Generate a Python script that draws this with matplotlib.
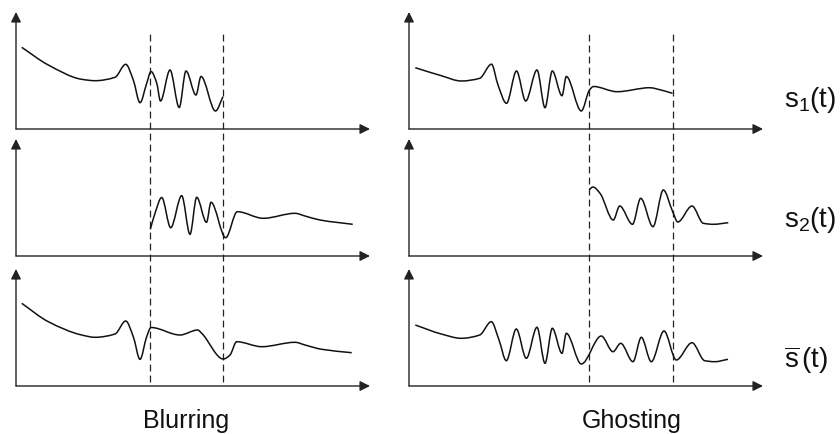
import numpy as np
import matplotlib
matplotlib.use("Agg")
import matplotlib.pyplot as plt
from matplotlib.path import Path
from matplotlib.patches import PathPatch
from matplotlib.transforms import blended_transform_factory

plt.rcParams['font.family'] = ['Liberation Sans', 'DejaVu Sans']
plt.rcParams['mathtext.fontset'] = 'custom'
plt.rcParams['mathtext.rm'] = 'Liberation Sans'
plt.rcParams['mathtext.it'] = 'Liberation Sans:italic'

# ---------------- data (t along the time axis, v above the baseline) ----------------
s1_blur_t = [5.7, 32.3, 65.7, 79, 99, 109.7, 117.3, 124, 130.7, 135, 140.7, 144.5, 154, 163.2,
             170, 180, 185, 199.5, 207]
s1_blur_v = [81.7, 64, 49.7, 48.3, 51.7, 64.7, 49, 26.3, 45.7, 57.5, 46, 28, 59, 21.5,
             58, 34, 52.5, 18, 32.3]

s2_blur_t = [134.3, 139, 145.7, 154.7, 165.7, 174, 180.7, 190.5, 195, 209.7, 221.3, 247.3,
             279, 289, 304, 336.7]
s2_blur_v = [26.7, 42.7, 58.5, 28.3, 60.3, 21.7, 58.7, 33.7, 53.7, 18.3, 44.3, 37.7,
             42.7, 40, 36, 31.7]

sum_blur_t = [5.7, 32.3, 65.7, 79, 99, 109.7, 117.3, 124, 130.7, 135, 164, 181.7, 185.7,
              207.3, 214, 220.7, 245.7, 279, 289, 305.7, 335.7]
sum_blur_v = [82.7, 64.3, 51, 48.7, 52, 65, 49.3, 26.7, 49.3, 58.5, 51, 56, 52.7,
              27, 31, 44.3, 39.3, 43.7, 41, 36.7, 33.3]

s1_ghost_t = [6.3, 32.3, 52.3, 70.7, 82.5, 89, 97.5, 107.5, 116.7, 128, 136, 143.3, 153,
              157.3, 172.3, 180.5, 184.5, 208, 241, 248, 263.5]
s1_ghost_v = [61.3, 53.3, 48, 50.7, 64.8, 44, 25.7, 58, 28, 59, 21.3, 58, 33.3,
              52.5, 18, 39, 42.5, 37.3, 41.3, 40, 35.7]

s2_ghost_t = [180.3, 184, 191, 204.3, 210.7, 223.5, 231.7, 244, 254.3, 263.7, 268.8, 283,
              294.3, 304.3, 319.3]
s2_ghost_v = [66.5, 69, 62.7, 36, 50, 31.7, 57.7, 29.3, 66, 44.3, 34, 50,
              32.7, 31.7, 33.3]

sum_ghost_t = [6.3, 32.3, 52.3, 70.7, 82.3, 90, 97.3, 107.3, 117.3, 128, 136, 143.3, 153,
               157.3, 172.3, 192.3, 204, 211.7, 224, 232.3, 242.3, 255, 267.3, 283, 295.7,
               305.7, 319]
sum_ghost_v = [61, 52, 47.7, 51, 64.3, 46, 25.3, 57, 27.7, 58.7, 22.7, 57.7, 32.7,
               52.7, 22, 50, 34.3, 42.7, 24.3, 48.7, 24.3, 55, 26, 43.3, 25.3,
               24.3, 26.7]

blur_marks = [134, 207]      # dashed time marks, Blurring column
ghost_marks = [180, 264]     # dashed time marks, Ghosting column

row_labels = [r'$\mathregular{s_1(t)}$', r'$\mathregular{s_2(t)}$', r'$\mathregular{\overline{s}\,(t)}$']
col_labels = ['Blurring', 'Ghosting']

# ---------------- helpers ----------------
def smooth_path(t, v):
    x = np.asarray(t, float)
    y = np.asarray(v, float)
    n = len(x)
    h = np.diff(x)
    d = np.diff(y) / h
    m = np.zeros(n)
    m[0], m[-1] = d[0], d[-1]
    for k in range(1, n - 1):
        if d[k - 1] * d[k] <= 0:
            m[k] = 0.0
        else:
            w1 = 2 * h[k] + h[k - 1]
            w2 = h[k] + 2 * h[k - 1]
            m[k] = (w1 + w2) / (w1 / d[k - 1] + w2 / d[k])
    verts = [(x[0], y[0])]
    codes = [Path.MOVETO]
    for k in range(n - 1):
        hk = h[k] / 3.0
        verts += [(x[k] + hk, y[k] + m[k] * hk),
                  (x[k + 1] - hk, y[k + 1] - m[k + 1] * hk),
                  (x[k + 1], y[k + 1])]
        codes += [Path.CURVE4] * 3
    return Path(verts, codes)

W, H = 840, 434
AW, AH = 354, 117
fig = plt.figure(figsize=(W / 100, H / 100), dpi=100)

def add_panel(x0, base, t, v):
    ax = fig.add_axes([x0 / W, (H - base) / H, AW / W, AH / H])
    ax.set_xlim(0, AW)
    ax.set_ylim(0, AH)
    ax.axis('off')
    arrow = dict(arrowstyle='-|>', mutation_scale=15, lw=1.0, color='#222222',
                 shrinkA=0, shrinkB=0)
    ax.annotate('', xy=(AW, 0), xytext=(0, 0), arrowprops=arrow, annotation_clip=False)
    ax.annotate('', xy=(0, AH), xytext=(0, 0), arrowprops=arrow, annotation_clip=False)
    if t is not None:
        ax.add_patch(PathPatch(smooth_path(t, v), facecolor='none', edgecolor='#111111',
                               lw=1.1, clip_on=False))
    return ax

cols = [(16, [(s1_blur_t, s1_blur_v), (s2_blur_t, s2_blur_v), (sum_blur_t, sum_blur_v)], blur_marks),
        (409, [(s1_ghost_t, s1_ghost_v), (s2_ghost_t, s2_ghost_v), (sum_ghost_t, sum_ghost_v)], ghost_marks)]
bases = [129, 256, 386]

for x0, series, marks in cols:
    axes = [add_panel(x0, b, t, v) for b, (t, v) in zip(bases, series)]
    top = axes[0]
    tr = blended_transform_factory(top.transData, fig.transFigure)
    for mk in marks:
        top.plot([mk, mk], [(H - 382) / H, (H - 30) / H], transform=tr, clip_on=False,
                 color='#222222', lw=0.9, linestyle=(0, (5.5, 3.3)))

# row labels
for lab, yc in zip(row_labels, [100, 220, 360]):
    fig.text(784 / W, (H - yc) / H, lab, fontsize=20, ha='left', va='center', color='#111111')

# column labels
for lab, xc in zip(col_labels, [186, 632]):
    fig.text(xc / W, (H - 421) / H, lab, fontsize=18, ha='center', va='center', color='#111111')

fig.savefig('out.png', dpi=100)
